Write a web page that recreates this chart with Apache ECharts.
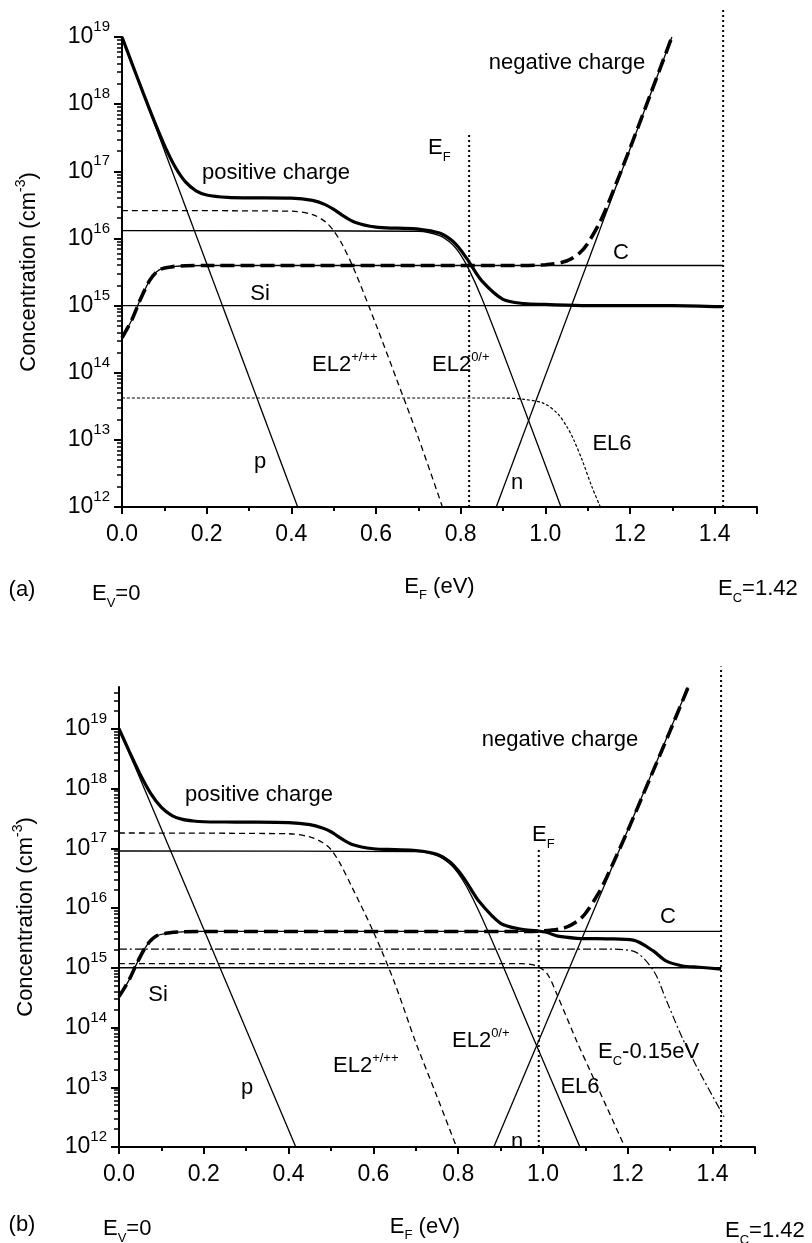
<!DOCTYPE html>
<html>
<head>
<meta charset="utf-8"/>
<title>EL2 charge balance</title>
<script src="https://cdn.jsdelivr.net/npm/echarts@6/dist/echarts.min.js"></script>
<style>
html,body{margin:0;padding:0;background:#fff;}
#main{width:812px;height:1243px;}
</style>
</head>
<body>
<div id="main"></div>
<script type="text/javascript">
// axis ticks
var xMajorTicks = [0, 0.2, 0.4, 0.6, 0.8, 1.0, 1.2, 1.4, 1.5];
var xLabelTicks = [0, 0.2, 0.4, 0.6, 0.8, 1.0, 1.2, 1.4];
var xMinorTicks = [0.1, 0.3, 0.5, 0.7, 0.9, 1.1, 1.3];
var yDecades = [1e12, 1e13, 1e14, 1e15, 1e16, 1e17, 1e18, 1e19];
var yMantissa = [2, 3, 4, 5, 6, 7, 8, 9];
var yTopMantissaB = [2, 3, 4, 5];

// ---- panel (a) ----
var pA_E = [0, 0.415];
var pA = [1e19, 1e12];
var nA_E = [0.884, 1.299];
var nA = [1e12, 1e19];
var siA_E = [0, 1.42];
var siA = [1e15, 1e15];
var cA_E = [0, 0.023, 0.043, 0.066, 0.088, 0.12, 0.15, 0.2, 1.42];
var cA = [3.3e14, 6.1e14, 1.22e15, 2.4e15, 3.4e15, 3.8e15, 3.92e15, 3.95e15, 3.95e15];
var el2bA_E = [0, 0.40, 0.45, 0.48, 0.50, 0.52, 0.55, 0.60, 0.65, 0.70, 0.757];
var el2bA = [2.6e16, 2.55e16, 2.27e16, 1.78e16, 1.3e16, 8.2e15, 3.25e15, 5.2e14, 7.6e13, 1.08e13, 1e12];
var el2aA_E = [0, 0.70, 0.75, 0.78, 0.80, 0.82, 0.85, 0.90, 0.95, 1.037];
var el2aA = [1.31e16, 1.28e16, 1.1e16, 8.2e15, 5.7e15, 3.4e15, 1.29e15, 2.0e14, 2.9e13, 1e12];
var el6A_E = [0, 0.90, 0.95, 0.996, 1.028, 1.051, 1.067, 1.087, 1.11, 1.13];
var el6A = [4.2e13, 4.2e13, 4.0e13, 3.5e13, 2.5e13, 1.57e13, 1.0e13, 5.0e12, 2.0e12, 1e12];
var posA_E = [0, 0.025, 0.05, 0.075, 0.10, 0.125, 0.15, 0.175, 0.20, 0.25, 0.30, 0.40, 0.45, 0.48, 0.50, 0.52, 0.55, 0.60, 0.65, 0.70, 0.75, 0.78, 0.80, 0.82, 0.85, 0.90, 0.95, 1.0, 1.1, 1.3, 1.42];
var posA = [1e19, 3.82e18, 1.47e18, 5.83e17, 2.46e17, 1.18e17, 6.95e16, 5.12e16, 4.44e16, 4.08e16, 4.02e16, 3.97e16, 3.68e16, 3.19e16, 2.71e16, 2.23e16, 1.74e16, 1.47e16, 1.42e16, 1.38e16, 1.2e16, 9.24e15, 6.74e15, 4.44e15, 2.33e15, 1.24e15, 1.07e15, 1.04e15, 1.0e15, 1.0e15, 9.6e14];
var negA_E = [0, 0.023, 0.043, 0.066, 0.088, 0.12, 0.15, 0.2, 0.9, 1.0, 1.05, 1.08, 1.1, 1.13, 1.15, 1.2, 1.25, 1.299];
var negA = [3.3e14, 6.1e14, 1.22e15, 2.4e15, 3.4e15, 3.8e15, 3.92e15, 3.95e15, 3.95e15, 4.05e15, 4.6e15, 6.0e15, 8.4e15, 1.8e16, 3.5e16, 2.2e17, 1.5e18, 1e19];
var efA_E = [0.82, 0.82];
var efA = [1e12, 3.7e17];
var ecA_E = [1.42, 1.42];
var ecA = [1e12, 2.6e19];

// ---- panel (b) ----
var pB_E = [0, 0.417];
var pB = [1e19, 1e12];
var nB_E = [0.884, 1.342];
var nB = [1e12, 4.9e19];
var siB_E = [0, 1.42];
var siB = [1e15, 1e15];
var cB_E = [0, 0.023, 0.043, 0.066, 0.088, 0.12, 0.15, 0.2, 1.42];
var cB = [3.3e14, 6.1e14, 1.22e15, 2.4e15, 3.4e15, 3.85e15, 4.0e15, 4.05e15, 4.05e15];
var el2bB_E = [0, 0.40, 0.45, 0.48, 0.50, 0.52, 0.55, 0.60, 0.65, 0.70, 0.75, 0.796];
var el2bB = [1.8e17, 1.75e17, 1.55e17, 1.25e17, 9.5e16, 5.8e16, 2.2e16, 4.0e15, 5.6e14, 5.6e13, 7e12, 1e12];
var el2aB_E = [0, 0.70, 0.75, 0.78, 0.80, 0.82, 0.85, 0.90, 0.95, 1.0, 1.087];
var el2aB = [9e16, 8.76e16, 7.53e16, 5.53e16, 3.81e16, 2.27e16, 8.5e15, 1.33e15, 1.9e14, 2.8e13, 1e12];
var el6B_E = [0, 0.95, 0.985, 1.01, 1.035, 1.08, 1.111, 1.15, 1.193];
var el6B = [1.17e15, 1.17e15, 1.07e15, 7.9e14, 3.3e14, 5.8e13, 1.9e13, 4.7e12, 1e12];
var ec15B_E = [0, 1.15, 1.213, 1.26, 1.29, 1.329, 1.368, 1.427];
var ec15B = [2.05e15, 2.05e15, 1.9e15, 9.1e14, 2.95e14, 6.6e13, 1.86e13, 3.2e12];
var posB_E = [0, 0.025, 0.05, 0.075, 0.10, 0.125, 0.15, 0.175, 0.20, 0.25, 0.30, 0.40, 0.45, 0.48, 0.50, 0.52, 0.55, 0.60, 0.65, 0.70, 0.75, 0.78, 0.80, 0.82, 0.85, 0.90, 0.95, 0.985, 1.01, 1.035, 1.08, 1.111, 1.15, 1.213, 1.26, 1.29, 1.329, 1.368, 1.42];
var posB = [1e19, 4.07e18, 1.72e18, 8.24e17, 4.83e17, 3.53e17, 3.04e17, 2.86e17, 2.78e17, 2.75e17, 2.74e17, 2.69e17, 2.49e17, 2.19e17, 1.89e17, 1.52e17, 1.16e17, 9.82e16, 9.48e16, 9.18e16, 7.95e16, 5.95e16, 4.23e16, 2.69e16, 1.27e16, 5.55e15, 4.41e15, 4.16e15, 3.88e15, 3.38e15, 3.11e15, 3.07e15, 3.05e15, 2.9e15, 1.91e15, 1.3e15, 1.07e15, 1.02e15, 9.5e14];
var negB_E = [0, 0.023, 0.043, 0.066, 0.088, 0.12, 0.15, 0.2, 0.95, 1.0, 1.05, 1.08, 1.1, 1.13, 1.15, 1.2, 1.25, 1.30, 1.342];
var negB = [3.3e14, 6.1e14, 1.22e15, 2.4e15, 3.4e15, 3.85e15, 4.0e15, 4.05e15, 4.05e15, 4.14e15, 4.65e15, 5.95e15, 8.1e15, 1.72e16, 3.25e16, 1.99e17, 1.35e18, 9.3e18, 4.9e19];
var efB_E = [0.99, 0.99];
var efB = [1e12, 1e17];
var ecB_E = [1.42, 1.42];
var ecB = [1e12, 1.1e20];

var FONT = 'Liberation Sans, Arial, sans-serif';
var INK = '#000';

function zip(xs, ys) {
	var out = [];
	for (var i = 0; i < xs.length; i++) out.push([xs[i], ys[i]]);
	return out;
}

function minorDecadeTicks(lastDecade, topMantissa) {
	var t = [];
	for (var i = 0; i < yDecades.length; i++) {
		if (yDecades[i] > lastDecade) break;
		for (var j = 0; j < yMantissa.length; j++) t.push(yMantissa[j] * yDecades[i]);
	}
	if (topMantissa) {
		for (var k = 0; k < topMantissa.length; k++) t.push(topMantissa[k] * 1e19);
	}
	return t;
}

var supRich = {
	sup: {fontSize: 15, fontFamily: FONT, color: INK, padding: [0, 0, 20, 0]}
};

function xAxesFor(g) {
	return [{
		type: 'value', gridIndex: g, min: 0, max: 1.5, position: 'bottom',
		axisLine: {onZero: false, lineStyle: {color: INK, width: 2}},
		axisTick: {customValues: xMajorTicks, length: 7, lineStyle: {color: INK, width: 2}},
		axisLabel: {customValues: xLabelTicks, formatter: function (v) { return v.toFixed(1); },
			fontSize: 23, fontFamily: FONT, color: INK, margin: 16},
		splitLine: {show: false},
		name: 'E{sub|F} (eV)', nameLocation: 'middle', nameGap: 64,
		nameTextStyle: {fontSize: 22, fontFamily: FONT, color: INK,
			padding: g === 1 ? [0, 24, 0, 0] : 0,
			rich: {sub: {fontSize: 13, fontFamily: FONT, color: INK, padding: [18, 0, 0, 0]}}}
	}, {
		type: 'value', gridIndex: g, min: 0, max: 1.5, position: 'bottom',
		axisLine: {show: false, onZero: false},
		axisTick: {customValues: xMinorTicks, length: 4, lineStyle: {color: INK, width: 2}},
		axisLabel: {show: false},
		splitLine: {show: false}
	}];
}

function yAxesFor(g, max, minor) {
	return [{
		type: 'log', logBase: 10, gridIndex: g, min: 1e12, max: max, position: 'left',
		axisLine: {onZero: false, lineStyle: {color: INK, width: 2}},
		axisTick: {customValues: yDecades, length: 8, lineStyle: {color: INK, width: 2}},
		axisLabel: {customValues: yDecades, margin: 12, fontSize: 23, fontFamily: FONT, color: INK,
			formatter: function (v) { return '10{sup|' + Math.round(Math.log10(v)) + '}'; },
			rich: supRich},
		splitLine: {show: false},
		name: 'Concentration (cm{sup|-3})', nameLocation: 'middle', nameGap: 78,
		nameTextStyle: {fontSize: 22, fontFamily: FONT, color: INK,
			rich: {sup: {fontSize: 14, fontFamily: FONT, color: INK, padding: [0, 0, 16, 0]}}}
	}, {
		type: 'log', logBase: 10, gridIndex: g, min: 1e12, max: max, position: 'left',
		axisLine: {show: false, onZero: false},
		axisTick: {customValues: minor, length: 5, lineStyle: {color: INK, width: 1.5}},
		axisLabel: {show: false},
		splitLine: {show: false}
	}];
}

function line(name, xs, ys, g, width, type, z) {
	return {
		name: name, type: 'line', xAxisIndex: g * 2, yAxisIndex: g * 2,
		data: zip(xs, ys), showSymbol: false, symbol: 'none', clip: false,
		smooth: xs.length > 3 ? 0.3 : false,
		lineStyle: {color: INK, width: width, type: type || 'solid'},
		z: z || 2, silent: true
	};
}

var thin = 1.3;
var series = [
	line('p', pA_E, pA, 0, thin),
	line('n', nA_E, nA, 0, thin),
	line('Si', siA_E, siA, 0, thin),
	line('C', cA_E, cA, 0, thin),
	line('EL2 0/+', el2aA_E, el2aA, 0, thin),
	line('EL2 +/++', el2bA_E, el2bA, 0, thin, [6, 4]),
	line('EL6', el6A_E, el6A, 0, 1.2, [3, 2]),
	line('E_F', efA_E, efA, 0, 2, [2, 3]),
	line('E_C', ecA_E, ecA, 0, 2, [2, 3]),
	line('positive charge', posA_E, posA, 0, 3.2, 'solid', 4),
	line('negative charge', negA_E, negA, 0, 3.6, [14, 6], 4),

	line('p', pB_E, pB, 1, thin),
	line('n', nB_E, nB, 1, thin),
	line('Si', siB_E, siB, 1, thin),
	line('C', cB_E, cB, 1, thin),
	line('EL2 0/+', el2aB_E, el2aB, 1, thin),
	line('EL2 +/++', el2bB_E, el2bB, 1, thin, [6, 4]),
	line('EL6', el6B_E, el6B, 1, thin, [6, 4]),
	line('Ec-0.15eV', ec15B_E, ec15B, 1, 1.2, [8, 3, 2, 3]),
	line('E_F', efB_E, efB, 1, 2, [2, 3]),
	line('E_C', ecB_E, ecB, 1, 2, [2, 3]),
	line('positive charge', posB_E, posB, 1, 3.2, 'solid', 4),
	line('negative charge', negB_E, negB, 1, 3.6, [14, 6], 4)
];

var txtRich = {
	sup: {fontSize: 13, fontFamily: FONT, fill: INK, padding: [0, 0, 16, 0]},
	sub: {fontSize: 13, fontFamily: FONT, fill: INK, padding: [18, 0, 0, 0]}
};
function label(text, x, y, align) {
	return {
		type: 'text', x: x, y: y, silent: true,
		style: {text: text, fontSize: 22, fontFamily: FONT, fill: INK,
			align: align || 'center', verticalAlign: 'middle', rich: txtRich}
	};
}

var labels = [
	label('positive charge', 276, 173),
	label('negative charge', 567, 63),
	label('E{sub|F}', 428, 148, 'left'),
	label('C', 621, 253),
	label('Si', 260, 294),
	label('EL2{sup|+/++}', 312, 365, 'left'),
	label('p', 260, 462),
	label('EL2{sup|0/+}', 432, 365, 'left'),
	label('EL6', 612, 444),
	label('n', 517, 483),
	label('(a)', 22, 590),
	label('E{sub|V}=0', 92, 594, 'left'),
	label('E{sub|C}=1.42', 718, 589, 'left'),

	label('positive charge', 259, 795),
	label('negative charge', 560, 740),
	label('E{sub|F}', 532, 835, 'left'),
	label('C', 668, 917),
	label('Si', 158, 995),
	label('EL2{sup|+/++}', 333, 1066, 'left'),
	label('p', 247, 1088),
	label('EL2{sup|0/+}', 452, 1041, 'left'),
	label('E{sub|C}-0.15eV', 598, 1052, 'left'),
	label('EL6', 580, 1087),
	label('n', 517, 1142),
	label('(b)', 22, 1225),
	label('E{sub|V}=0', 103, 1229, 'left'),
	label('E{sub|C}=1.42', 725, 1231, 'left')
];

var chart = echarts.init(document.getElementById('main'), null, {renderer: 'canvas'});
chart.setOption({
	animation: false,
	backgroundColor: '#fff',
	grid: [
		{left: 122, top: 37, width: 635, height: 470},
		{left: 119, top: 687, width: 636, height: 471}
	],
	xAxis: xAxesFor(0).concat(xAxesFor(1)),
	yAxis: yAxesFor(0, 1e19, minorDecadeTicks(1e18)).concat(yAxesFor(1, 5e19, minorDecadeTicks(1e18, yTopMantissaB))),
	series: series,
	graphic: labels
});
window.onresize = function () { chart.resize(); };
</script>
</body>
</html>
